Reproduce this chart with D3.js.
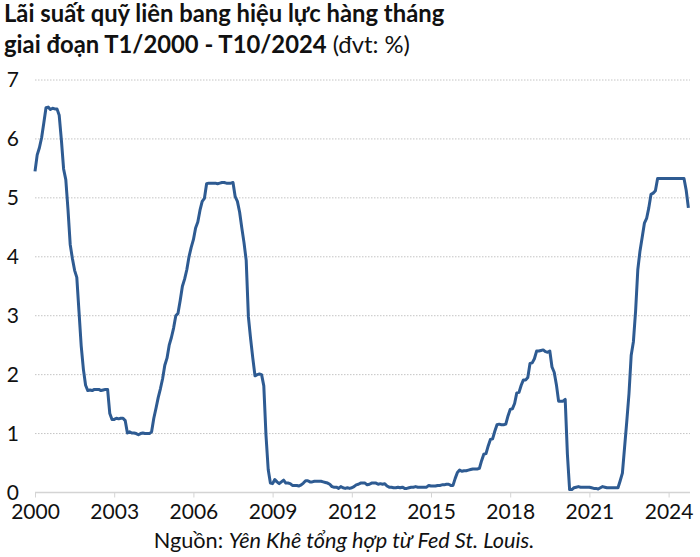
<!DOCTYPE html>
<html>
<head>
<meta charset="utf-8">
<script src="https://cdn.jsdelivr.net/npm/d3@7"></script>
<style>
  body { margin: 0; background: #fff; }
  svg { font-family: Lato, "Open Sans", sans-serif; }
</style>
</head>
<body>
<div id="chart"></div>
<script>
// Lai suat quy lien bang hieu luc (FEDFUNDS), monthly, T1/2000 - T10/2024

var startYear = 2000;
var tickYears = [2000, 2003, 2006, 2009, 2012, 2015, 2018, 2021, 2024];
var yTicks = [0, 1, 2, 3, 4, 5, 6, 7];

// one value per month, Jan 2000 onward
var monthlyRate = [
  5.45, 5.73, 5.85, 6.02, 6.27, 6.53, 6.54, 6.50, 6.52, 6.51, 6.51, 6.40,
  5.98, 5.49, 5.31, 4.80, 4.21, 3.97, 3.77, 3.65, 3.07, 2.49, 2.09, 1.82,
  1.73, 1.74, 1.73, 1.75, 1.75, 1.75, 1.73, 1.74, 1.75, 1.75, 1.34, 1.24,
  1.24, 1.26, 1.25, 1.26, 1.26, 1.22, 1.01, 1.03, 1.01, 1.01, 1.00, 0.98,
  1.00, 1.01, 1.00, 1.00, 1.00, 1.03, 1.26, 1.43, 1.61, 1.76, 1.93, 2.16,
  2.28, 2.50, 2.63, 2.79, 3.00, 3.04, 3.26, 3.50, 3.62, 3.78, 4.00, 4.16,
  4.29, 4.49, 4.59, 4.79, 4.94, 4.99, 5.24, 5.25, 5.25, 5.25, 5.25, 5.24,
  5.25, 5.26, 5.26, 5.25, 5.25, 5.25, 5.26, 5.02, 4.94, 4.76, 4.49, 4.24,
  3.94, 2.98, 2.61, 2.28, 1.98, 2.00, 2.01, 2.00, 1.81, 0.97, 0.39, 0.16,
  0.15, 0.22, 0.18, 0.15, 0.18, 0.21, 0.16, 0.16, 0.15, 0.12, 0.12, 0.12,
  0.11, 0.13, 0.16, 0.20, 0.20, 0.18, 0.18, 0.19, 0.19, 0.19, 0.19, 0.18,
  0.17, 0.16, 0.14, 0.10, 0.09, 0.09, 0.07, 0.10, 0.08, 0.07, 0.08, 0.07,
  0.08, 0.10, 0.13, 0.14, 0.16, 0.16, 0.16, 0.13, 0.14, 0.16, 0.16, 0.16,
  0.14, 0.15, 0.14, 0.15, 0.11, 0.09, 0.09, 0.08, 0.08, 0.09, 0.08, 0.09,
  0.07, 0.07, 0.08, 0.09, 0.09, 0.10, 0.09, 0.09, 0.09, 0.09, 0.09, 0.12,
  0.11, 0.11, 0.11, 0.12, 0.12, 0.13, 0.13, 0.14, 0.14, 0.12, 0.12, 0.24,
  0.34, 0.38, 0.36, 0.37, 0.37, 0.38, 0.39, 0.40, 0.40, 0.40, 0.41, 0.54,
  0.65, 0.66, 0.79, 0.90, 0.91, 1.04, 1.15, 1.16, 1.15, 1.15, 1.16, 1.30,
  1.41, 1.42, 1.51, 1.69, 1.70, 1.82, 1.91, 1.91, 1.95, 2.19, 2.20, 2.27,
  2.40, 2.40, 2.41, 2.42, 2.39, 2.38, 2.40, 2.13, 2.04, 1.83, 1.55, 1.55,
  1.55, 1.58, 0.65, 0.05, 0.05, 0.08, 0.09, 0.10, 0.09, 0.09, 0.09, 0.09,
  0.09, 0.08, 0.07, 0.07, 0.06, 0.08, 0.10, 0.09, 0.08, 0.08, 0.08, 0.08,
  0.08, 0.08, 0.20, 0.33, 0.77, 1.21, 1.68, 2.33, 2.56, 3.08, 3.78, 4.10,
  4.33, 4.57, 4.65, 4.83, 5.06, 5.08, 5.12, 5.33, 5.33, 5.33, 5.33, 5.33,
  5.33, 5.33, 5.33, 5.33, 5.33, 5.33, 5.33, 5.33, 5.13, 4.83
];

(function(){
  var width = 700, height = 557;
  var plotLeft = 35, plotRight = 690, plotTop = 80, plotBottom = 492.5;

  var svg = d3.select("#chart").append("svg")
      .attr("width", width)
      .attr("height", height);

  var x = d3.scaleLinear().domain([2000, 2024]).range([plotLeft, 668.6]);
  var y = d3.scaleLinear().domain([0, 7]).range([plotBottom, plotTop]);

  // title
  var title = svg.append("g").attr("fill", "#111");
  title.append("text")
      .attr("x", 4).attr("y", 22)
      .attr("font-size", 23.8).attr("font-weight", "bold")
      .text("Lãi suất quỹ liên bang hiệu lực hàng tháng");
  var t2 = title.append("text")
      .attr("x", 4).attr("y", 53)
      .attr("font-size", 23.8);
  t2.append("tspan").attr("font-weight", "bold").text("giai đoạn T1/2000 - T10/2024");
  t2.append("tspan").text(" (đvt: %)");

  // gridlines
  svg.append("g").selectAll("line")
      .data(yTicks.filter(function(d){ return d > 0; }))
      .enter().append("line")
      .attr("x1", plotLeft).attr("x2", plotRight)
      .attr("y1", function(d){ return y(d); })
      .attr("y2", function(d){ return y(d); })
      .attr("stroke", "#c4c4c4")
      .attr("stroke-width", 1)
      .attr("stroke-dasharray", "1.5,1.5");

  // y labels
  svg.append("g").selectAll("text")
      .data(yTicks)
      .enter().append("text")
      .attr("x", 19)
      .attr("y", function(d){ return y(d); })
      .attr("dy", "0.34em")
      .attr("text-anchor", "end")
      .attr("font-size", 21)
      .attr("fill", "#111")
      .text(function(d){ return d; });

  // x axis
  var xAxis = d3.axisBottom(x)
      .tickValues(tickYears)
      .tickFormat(d3.format("d"))
      .tickSize(5)
      .tickPadding(7);
  var gx = svg.append("g")
      .attr("transform", "translate(0," + plotBottom + ")")
      .call(xAxis);
  gx.select(".domain").remove();
  gx.insert("line", ":first-child")
      .attr("x1", plotLeft).attr("x2", plotRight)
      .attr("stroke", "#d4d4d4").attr("stroke-width", 1.5);
  gx.selectAll(".tick line").attr("stroke", "#d4d4d4").attr("stroke-width", 1);
  gx.selectAll(".tick text")
      .attr("font-family", "Lato, sans-serif")
      .attr("font-size", 21)
      .attr("fill", "#111");

  // line
  var line = d3.line()
      .x(function(d, i){ return x(startYear + i / 12); })
      .y(function(d){ return y(d); });

  svg.append("path")
      .datum(monthlyRate)
      .attr("d", line)
      .attr("fill", "none")
      .attr("stroke", "#2e5b92")
      .attr("stroke-width", 3)
      .attr("stroke-linejoin", "round");

  // source
  var src = svg.append("text")
      .attr("x", 344).attr("y", 548)
      .attr("text-anchor", "middle")
      .attr("font-size", 21.7)
      .attr("fill", "#111");
  src.append("tspan").text("Nguồn: ");
  src.append("tspan").attr("font-style", "italic").text("Yên Khê tổng hợp từ Fed St. Louis.");
})();
</script>
</body>
</html>
